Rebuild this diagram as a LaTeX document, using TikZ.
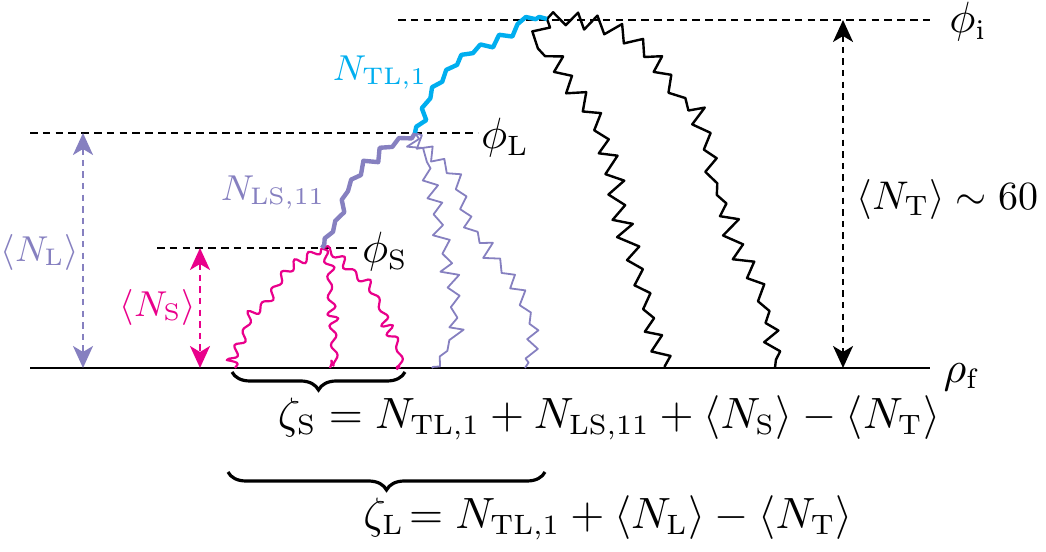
\documentclass[tikz,border=0pt]{standalone}
\usetikzlibrary{decorations.pathmorphing,decorations.pathreplacing,arrows.meta}
\definecolor{ncyan}{RGB}{0,174,239}
\definecolor{npurple}{RGB}{134,128,192}
\definecolor{nmag}{RGB}{233,0,139}
\begin{document}
\begin{tikzpicture}[x=0.25pt,y=-0.25pt,
  font=\fontsize{10.5}{12}\selectfont,
  level/.style={dash pattern=on 1.9pt off 1.3pt, line width=0.5pt},
  darrow/.style={dash pattern=on 1.6pt off 1.3pt, line width=0.6pt,
     {Stealth[length=5.5pt,width=5pt,inset=1.5pt]}-{Stealth[length=5.5pt,width=5pt,inset=1.5pt]}},
  rnd/.style={decoration={random steps, segment length=2.6pt, amplitude=1.1pt}},
  rndf/.style={decoration={random steps, segment length=2.4pt, amplitude=0.8pt}},
  zz/.style={decoration={zigzag, segment length=6pt, amplitude=1.7pt}},
  zzp/.style={decoration={zigzag, segment length=5pt, amplitude=1.3pt}},
  zzf/.style={decoration={snake, segment length=4.2pt, amplitude=1pt}},
  zzt/.style={decoration={zigzag, segment length=5.5pt, amplitude=0.8pt}},
  lbl/.style={inner sep=0pt},
  small/.style={font=\fontsize{9}{11}\selectfont},
  smaller/.style={font=\fontsize{8.6}{10}\selectfont}
]
\useasboundingbox (0,0) rectangle (1046,552);
\pgfmathsetseed{11}
% key points
\coordinate (top) at (547,19);
\coordinate (L) at (415,133);
\coordinate (S) at (322,248);
% levels
\coordinate (iL) at (398,20); \coordinate (iR) at (930,20);
\coordinate (lL) at (30,133); \coordinate (lR) at (478,133);
\coordinate (sL) at (157,248); \coordinate (sR) at (360,248);
\coordinate (fL) at (30,368); \coordinate (fR) at (930,368);
\draw[level] (iL) -- (iR);
\draw[level] (lL) -- (lR);
\draw[level] (sL) -- (sR);
\draw[line width=0.6pt] (fL) -- (fR);
% labels of levels
\node[lbl] (phiI) at (968,22) {$\phi_{\mathrm{i}}$};
\node[lbl] (phiL) at (505,138) {$\phi_{\mathrm{L}}$};
\node[lbl] (phiS) at (385,252) {$\phi_{\mathrm{S}}$};
\node[lbl] (rhoF) at (962,377) {$\rho_{\mathrm{f}}$};
% black walks
\draw[line width=0.6pt, line join=round] decorate[zz]{decorate[rnd]{(top) -- (535,40) -- (555,52) -- (568,82) -- (590,110) -- (602,140) -- (612,172) -- (618,205) -- (630,240) -- (638,275) -- (645,300) -- (652,330) -- (658,350) -- (665,368)}};
\draw[line width=0.6pt, line join=round] decorate[zz]{decorate[rnd]{(top) -- (600,22) -- (632,40) -- (652,55) -- (678,98) -- (700,115) -- (710,160) -- (720,200) -- (735,240) -- (752,270) -- (765,300) -- (772,335) -- (775,368)}};
% thin purple walks
\draw[npurple, line width=0.45pt, line join=round] decorate[zzp]{decorate[rnd]{(L) -- (412,148) -- (425,155) -- (432,185) -- (440,208) -- (438,232) -- (448,255) -- (455,300) -- (455,340) -- (432,368)}};
\draw[npurple, line width=0.45pt, line join=round] decorate[zzp]{decorate[rnd]{(L) -- (432,152) -- (455,175) -- (462,202) -- (472,232) -- (500,265) -- (520,292) -- (535,322) -- (530,350) -- (525,368)}};
% magenta walks
\draw[nmag, line width=0.55pt, line join=round] decorate[zzf]{decorate[rndf]{(S) -- (298,262) -- (280,278) -- (265,300) -- (250,318) -- (242,343) -- (235,368)}};
\draw[nmag, line width=0.55pt, line join=round] decorate[zzf]{decorate[rndf]{(S) -- (330,275) -- (330,305) -- (335,335) -- (330,368)}};
\draw[nmag, line width=0.55pt, line join=round] decorate[zzf]{decorate[rndf]{(S) -- (345,268) -- (368,285) -- (385,318) -- (398,345) -- (400,368)}};
% thick purple
\draw[npurple, line width=1.1pt, line join=round] decorate[zzt]{decorate[rndf]{(L) -- (385,148) -- (360,172) -- (345,200) -- (332,228) -- (S)}};
% thick cyan
\draw[ncyan, line width=1.1pt, line join=round] decorate[zzt]{decorate[rndf]{(L) -- (425,108) -- (435,85) -- (462,58) -- (500,38) -- (518,28) -- (522,18) -- (top)}};
% path labels
\node[lbl, ncyan, small] (NTL) at (380,73) {$N_{\mathrm{TL},1}$};
\node[lbl, npurple, small] (NLS) at (273,193) {$N_{\mathrm{LS},11}$};
% arrows
\coordinate (Ta) at (843,20); \coordinate (Tb) at (843,368);
\coordinate (La) at (83,133); \coordinate (Lb) at (83,368);
\coordinate (Sa) at (200,248); \coordinate (Sb) at (200,368);
\draw[darrow] (Ta) -- (Tb);
\draw[darrow, npurple] (La) -- (Lb);
\draw[darrow, nmag] (Sa) -- (Sb);
\node[lbl, anchor=west, font=\fontsize{9.6}{11}\selectfont] (NT) at (856,200) {$\langle N_{\mathrm{T}}\rangle \sim 60$};
\node[lbl, npurple, smaller] (NL) at (40,253) {$\langle N_{\mathrm{L}}\rangle$};
\node[lbl, nmag, smaller] (NS) at (158,308) {$\langle N_{\mathrm{S}}\rangle$};
% braces
\coordinate (bsL) at (232,372); \coordinate (bsR) at (405,372);
\coordinate (blL) at (228,472); \coordinate (blR) at (545,472);
\draw[line width=0.8pt, decorate, decoration={brace, amplitude=4.5pt}] (bsR) -- (bsL);
\draw[line width=0.8pt, decorate, decoration={brace, amplitude=4.5pt}] (blR) -- (blL);
\node[lbl] (zS) at (609,418) {$\zeta_{\mathrm{S}} = N_{\mathrm{TL},1} + N_{\mathrm{LS},11} + \langle N_{\mathrm{S}}\rangle - \langle N_{\mathrm{T}}\rangle$};
\node[lbl] (zL) at (608,518) {$\zeta_{\mathrm{L}}\!= N_{\mathrm{TL},1} + \langle N_{\mathrm{L}}\rangle - \langle N_{\mathrm{T}}\rangle$};
\end{tikzpicture}
\end{document}
